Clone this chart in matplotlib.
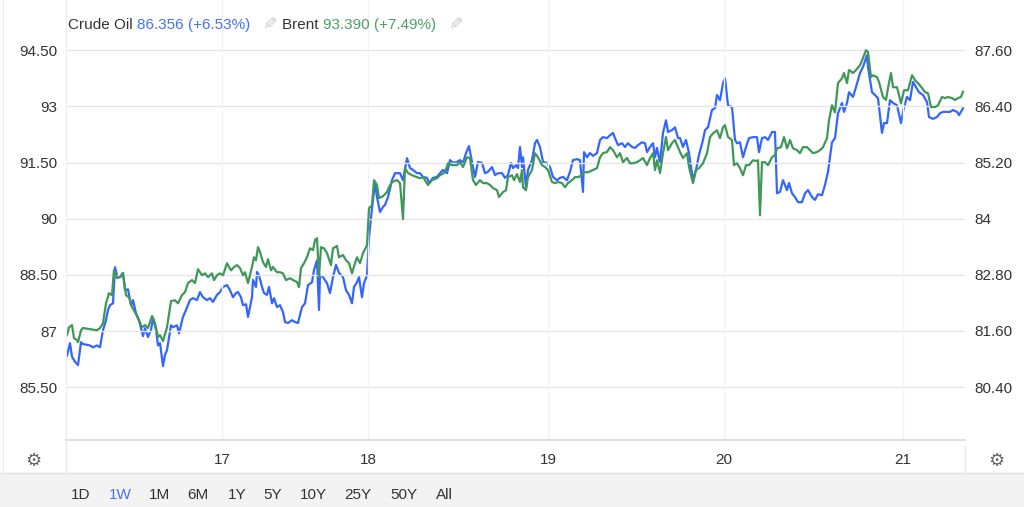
import matplotlib
matplotlib.use("Agg")
import matplotlib.pyplot as plt
from matplotlib.patches import Rectangle
from matplotlib.lines import Line2D

plt.rcParams['font.family'] = ['Liberation Sans', 'DejaVu Sans']

# ---- data (time position on compressed trading-time scale, value) ----
crude_t = [1, 4, 6, 9, 12, 15, 17, 24, 27, 31, 34, 37, 40, 42, 44, 47, 49, 51, 54, 57, 59, 62, 65, 67,
           70, 73, 77, 79, 82, 85, 87, 90, 92, 94, 97, 99, 101, 105, 107, 111, 113, 117, 120, 124, 127,
           131, 134, 137, 141, 144, 147, 151, 154, 157, 161, 164, 167, 170, 172, 175, 177, 180, 182, 186,
           187, 190, 191, 193, 196, 198, 201, 203, 206, 208, 211, 214, 217, 219, 222, 226, 229, 232, 236,
           239, 242, 246, 248, 251, 253, 254, 257, 261, 264, 267, 270, 273, 277, 280, 283, 286, 288, 291,
           293, 296, 298, 301, 303, 306, 309, 311, 314, 317, 319, 322, 326, 329, 334, 337, 341, 344, 347,
           351, 354, 357, 361, 363, 367, 371, 374, 377, 381, 384, 387, 391, 394, 397, 400, 403, 406, 409,
           412, 416, 419, 422, 426, 429, 432, 436, 439, 442, 445, 447, 450, 452, 454, 456, 457, 460, 462,
           466, 469, 471, 474, 477, 481, 484, 487, 491, 494, 497, 501, 504, 507, 511, 514, 517, 518, 521,
           524, 527, 531, 534, 537, 541, 544, 547, 549, 552, 556, 559, 562, 566, 569, 572, 576, 579, 581,
           584, 587, 589, 591, 594, 597, 600, 602, 606, 609, 612, 614, 617, 620, 623, 627, 630, 633, 637,
           639, 642, 646, 649, 651, 654, 657, 659, 662, 666, 669, 671, 674, 677, 680, 683, 687, 691, 693,
           696, 699, 702, 706, 709, 711, 714, 717, 721, 723, 726, 729, 732, 736, 739, 742, 746, 749, 752,
           756, 759, 762, 766, 769, 772, 776, 778, 781, 783, 787, 790, 794, 797, 801, 802, 806, 809, 812,
           816, 818, 821, 824, 827, 831, 835, 838, 841, 844, 847, 850, 853, 857, 861, 863, 867, 871, 874,
           877, 881, 884, 887, 891, 893, 896, 897]
crude = [81.07, 81.34, 81.05, 80.94, 80.87, 81.36, 81.32, 81.29, 81.25, 81.29, 81.25, 81.62, 81.83,
         82.05, 82.15, 82.19, 82.96, 82.79, 82.75, 82.84, 82.47, 82.49, 82.15, 82.26, 81.98, 81.83, 81.49,
         81.66, 81.47, 81.62, 81.88, 81.62, 81.29, 81.34, 80.85, 81.09, 81.19, 81.72, 81.68, 81.72, 81.55,
         81.90, 82.05, 82.26, 82.30, 82.26, 82.43, 82.32, 82.26, 82.30, 82.22, 82.37, 82.43, 82.54, 82.58,
         82.47, 82.32, 82.41, 82.43, 82.32, 82.15, 82.17, 81.90, 82.32, 82.69, 82.54, 82.86, 82.79, 82.54,
         82.41, 82.37, 82.54, 82.19, 82.30, 82.11, 82.15, 82.00, 81.79, 81.77, 81.83, 81.79, 81.77, 82.11,
         82.19, 82.58, 82.64, 82.90, 83.11, 82.05, 82.79, 82.75, 82.62, 82.41, 82.75, 83.01, 82.84, 82.75,
         82.47, 82.37, 82.19, 82.54, 82.64, 82.75, 82.32, 82.62, 82.79, 83.60, 84.22, 84.76, 84.46, 84.14,
         84.25, 84.29, 84.46, 84.82, 84.97, 84.97, 84.82, 85.29, 85.08, 85.04, 84.97, 84.97, 84.89, 84.87,
         84.76, 84.87, 84.89, 84.97, 85.04, 84.97, 85.25, 85.19, 85.21, 85.25, 85.19, 85.40, 85.55, 85.21,
         84.89, 85.21, 85.19, 84.97, 85.00, 85.10, 84.93, 84.97, 84.97, 84.87, 84.93, 85.19, 85.08, 85.14,
         85.08, 85.53, 85.10, 85.31, 84.67, 85.04, 85.25, 85.61, 85.68, 85.53, 85.21, 85.19, 85.10, 84.89,
         84.82, 84.87, 84.89, 84.82, 85.00, 85.25, 85.27, 85.25, 84.57, 85.42, 85.31, 85.40, 85.34, 85.40,
         85.68, 85.74, 85.72, 85.78, 85.83, 85.72, 85.57, 85.61, 85.53, 85.61, 85.53, 85.51, 85.57, 85.63,
         85.61, 85.42, 85.53, 85.61, 85.31, 85.51, 85.19, 85.83, 86.10, 85.85, 85.89, 85.95, 85.72, 85.72,
         85.53, 85.68, 85.40, 84.82, 85.04, 85.36, 85.68, 85.89, 85.95, 86.32, 86.36, 86.64, 86.53, 86.89,
         87.00, 86.42, 86.38, 85.68, 85.61, 85.63, 85.31, 85.53, 85.72, 85.74, 85.74, 85.42, 85.72, 85.74,
         85.68, 85.85, 85.85, 84.54, 84.57, 84.82, 84.61, 84.76, 84.54, 84.46, 84.35, 84.35, 84.54, 84.61,
         84.46, 84.40, 84.52, 84.50, 84.72, 85.00, 85.63, 85.72, 86.25, 86.47, 86.28, 86.47, 86.70, 86.60,
         86.81, 87.11, 87.24, 87.49, 87.24, 86.70, 86.64, 86.57, 85.83, 86.04, 86.04, 86.53, 86.47, 86.42,
         86.04, 86.38, 86.60, 86.53, 86.92, 86.81, 86.70, 86.64, 86.49, 86.17, 86.13, 86.17, 86.25, 86.28,
         86.28, 86.28, 86.32, 86.28, 86.21, 86.32, 86.356]

brent_t = [1, 3, 6, 8, 11, 12, 15, 17, 24, 31, 34, 37, 40, 43, 46, 48, 51, 54, 57, 60, 63, 66, 69, 72,
           76, 79, 82, 86, 89, 92, 94, 97, 101, 105, 109, 112, 116, 119, 122, 126, 129, 132, 136, 139,
           142, 146, 148, 151, 154, 157, 161, 165, 168, 171, 174, 177, 179, 182, 186, 188, 190, 192, 194,
           197, 200, 202, 205, 207, 211, 214, 217, 220, 224, 227, 231, 233, 235, 238, 241, 244, 247, 249,
           251, 253, 255, 258, 261, 265, 267, 271, 273, 277, 280, 283, 286, 289, 291, 294, 297, 301, 303,
           306, 308, 311, 313, 317, 321, 323, 326, 331, 334, 337, 339, 342, 346, 351, 354, 357, 362, 366,
           371, 374, 379, 382, 386, 391, 394, 397, 401, 404, 407, 410, 414, 417, 421, 424, 427, 431, 433,
           437, 440, 442, 446, 448, 451, 454, 456, 457, 460, 462, 466, 469, 472, 476, 479, 482, 486, 489,
           492, 496, 499, 502, 506, 509, 512, 516, 518, 522, 527, 531, 534, 537, 541, 544, 547, 551, 554,
           557, 561, 564, 567, 571, 574, 577, 581, 584, 587, 589, 591, 594, 597, 600, 602, 606, 609, 612,
           614, 617, 621, 623, 627, 630, 633, 637, 641, 644, 647, 651, 654, 657, 659, 662, 666, 668, 671,
           674, 677, 680, 683, 687, 690, 692, 694, 696, 699, 702, 706, 709, 711, 715, 718, 721, 724, 727,
           731, 734, 737, 741, 744, 747, 751, 754, 757, 761, 763, 766, 769, 772, 776, 778, 781, 783, 787,
           790, 794, 797, 800, 802, 805, 807, 811, 813, 817, 820, 822, 825, 827, 831, 835, 838, 842, 846,
           849, 852, 856, 859, 862, 865, 869, 872, 876, 879, 882, 886, 889, 892, 895, 897]
brent = [86.89, 87.10, 87.16, 86.81, 86.76, 86.70, 87.02, 87.08, 87.05, 87.02, 87.08, 87.21, 87.74,
         88.01, 87.96, 88.63, 88.41, 88.44, 88.54, 87.96, 87.90, 87.64, 87.50, 87.34, 87.10, 87.16, 87.08,
         87.40, 87.21, 86.84, 86.89, 86.73, 87.10, 87.80, 87.82, 87.74, 87.96, 88.04, 88.28, 88.36, 88.28,
         88.65, 88.49, 88.54, 88.44, 88.54, 88.36, 88.49, 88.54, 88.49, 88.81, 88.62, 88.71, 88.76, 88.68,
         88.49, 88.57, 88.28, 88.71, 88.97, 88.89, 89.24, 89.11, 88.84, 88.71, 88.92, 88.62, 88.71, 88.57,
         88.57, 88.54, 88.36, 88.41, 88.36, 88.31, 88.17, 88.68, 88.81, 88.97, 89.21, 89.16, 89.43, 89.48,
         88.44, 89.24, 89.21, 89.08, 88.76, 89.21, 89.27, 88.97, 89.03, 88.89, 88.81, 88.54, 88.81, 88.97,
         88.81, 89.08, 89.29, 90.28, 90.36, 91.03, 90.90, 90.55, 90.60, 90.71, 90.84, 90.98, 91.03, 90.95,
         89.99, 91.35, 91.22, 91.16, 91.11, 91.08, 91.11, 90.90, 91.03, 91.08, 91.16, 91.24, 91.48, 91.43,
         91.43, 91.51, 91.38, 91.64, 91.62, 91.03, 90.90, 91.03, 90.95, 90.95, 90.90, 90.82, 90.76, 90.58,
         90.71, 90.76, 91.11, 91.16, 91.03, 91.19, 90.98, 91.30, 90.84, 90.76, 91.11, 91.30, 91.75, 91.64,
         91.43, 91.38, 91.30, 90.98, 90.95, 90.98, 90.95, 90.84, 90.95, 91.03, 91.11, 91.11, 91.16, 91.24,
         91.24, 91.30, 91.35, 91.64, 91.75, 91.78, 91.91, 91.83, 91.64, 91.75, 91.51, 91.62, 91.48, 91.48,
         91.51, 91.56, 91.62, 91.43, 91.62, 91.75, 91.30, 91.56, 91.22, 91.75, 92.18, 91.83, 92.02, 92.10,
         91.91, 91.78, 91.62, 91.75, 91.38, 90.95, 91.30, 91.35, 91.48, 91.75, 92.18, 92.28, 92.36, 92.15,
         92.44, 92.50, 92.18, 92.10, 91.43, 91.48, 91.35, 91.16, 91.43, 91.43, 91.56, 91.54, 91.56, 90.09,
         91.51, 91.51, 91.43, 91.64, 91.70, 91.88, 91.91, 92.18, 91.88, 92.10, 91.88, 91.83, 91.75, 91.91,
         91.91, 91.83, 91.75, 91.78, 91.83, 91.91, 92.15, 92.63, 93.03, 92.84, 93.62, 93.75, 93.89, 93.62,
         93.97, 93.89, 93.97, 94.10, 94.29, 94.50, 94.45, 93.78, 93.83, 93.78, 93.65, 93.25, 93.17, 93.49,
         93.89, 93.51, 93.51, 93.08, 93.43, 93.43, 93.83, 93.70, 93.62, 93.49, 93.38, 93.35, 92.98, 92.98,
         93.03, 93.25, 93.22, 93.25, 93.22, 93.17, 93.22, 93.25, 93.39]

day_labels = ["17", "18", "19", "20", "21"]
day_pos = [156, 302, 482, 658, 837]
left_ticks = [85.5, 87, 88.5, 90, 91.5, 93, 94.5]
left_labels = ["85.50", "87", "88.50", "90", "91.50", "93", "94.50"]
right_ticks = [80.4, 81.6, 82.8, 84, 85.2, 86.4, 87.6]
right_labels = ["80.40", "81.60", "82.80", "84", "85.20", "86.40", "87.60"]
ranges = ["1D", "1W", "1M", "6M", "1Y", "5Y", "10Y", "25Y", "50Y", "All"]
legend = [("Crude Oil", "86.356 (+6.53%)"), ("Brent", "93.390 (+7.49%)")]

BLUE = "#3366ff"
GREEN = "#3f985a"
BLUE_TXT = "#4470ff"
GREEN_TXT = "#4e9e66"
TXT = "#333333"
FS = 11

W, H = 1024, 507
fig = plt.figure(figsize=(W / 100, H / 100), dpi=100)
fig.patch.set_facecolor("white")

def fx(px):
    return px / W

def fy(py):
    return 1 - py / H

# bottom grey band and frame lines
fig.patches.append(Rectangle((0, 0), 1, fy(473), transform=fig.transFigure,
                             facecolor="#f3f3f3", edgecolor="none", zorder=0))
fig.lines.append(Line2D([0, 1], [fy(473), fy(473)], transform=fig.transFigure,
                        color="#e2e2e2", lw=1))
fig.lines.append(Line2D([fx(3), fx(3)], [fy(473), 1], transform=fig.transFigure,
                        color="#eeeeee", lw=1))
fig.lines.append(Line2D([fx(66), fx(66)], [fy(473), fy(440)], transform=fig.transFigure,
                        color="#e8e8e8", lw=1))
fig.lines.append(Line2D([fx(965), fx(965)], [fy(473), fy(446)], transform=fig.transFigure,
                        color="#e8e8e8", lw=1))

ax = fig.add_axes([fx(66), fy(440), fx(965 - 66), 440 / H])
ax2 = ax.twinx()
ax.set_zorder(2)
ax.patch.set_visible(False)
ax2.set_zorder(1)

ax.set_xlim(0, 899)
ax.set_ylim(84.09, 95.84)
ax2.set_ylim(79.27, 88.67)

# grid
for v in left_ticks:
    ax.axhline(v, color="#e6e6e6", lw=1, zorder=0)
for p in day_pos:
    ax.axvline(p, color="#f0f4f6", lw=1, zorder=0)

ax2.plot(crude_t, crude, color=BLUE, lw=1.6, solid_joinstyle="round")
ax.plot(brent_t, brent, color=GREEN, lw=1.6, solid_joinstyle="round")

for a in (ax, ax2):
    for s in a.spines.values():
        s.set_visible(False)
ax.spines["left"].set_visible(True)
ax.spines["left"].set_color("#eeeeee")
ax.spines["bottom"].set_visible(True)
ax.spines["bottom"].set_color("#e0e0e0")
ax.spines["bottom"].set_linewidth(1.5)

ax.set_yticks(left_ticks)
ax.set_yticklabels(left_labels)
ax2.set_yticks(right_ticks)
ax2.set_yticklabels(right_labels)
ax.tick_params(axis="y", length=0, pad=6, labelsize=FS, labelcolor=TXT)
ax2.tick_params(axis="y", length=0, pad=7, labelsize=FS, labelcolor=TXT)
ax.set_xticks(day_pos)
ax.set_xticklabels(day_labels)
ax.tick_params(axis="x", length=0, pad=9, labelsize=FS, labelcolor=TXT)
ax2.tick_params(axis="x", length=0, labelbottom=False)

# legend-like header
r = fig.canvas.get_renderer()
y_leg = fy(25)
x = fx(68)
for i, (name, val) in enumerate(legend):
    col = BLUE_TXT if i == 0 else GREEN_TXT
    t1 = fig.text(x, y_leg, name + " ", color=TXT, fontsize=FS, va="center", ha="left")
    bb = t1.get_window_extent(renderer=r)
    x = bb.x1 / W
    t2 = fig.text(x, y_leg, val, color=col, fontsize=FS, va="center", ha="left")
    bb = t2.get_window_extent(renderer=r)
    x = bb.x1 / W + fx(7)
    t3 = fig.text(x, y_leg + 0.004, "\u270e", color="#c8c8c8", fontsize=12, va="center",
                  ha="left", rotation=-90, family=["DejaVu Sans"])
    bb = t3.get_window_extent(renderer=r)
    x = bb.x1 / W + fx(7)

# gear icons
for gx in (33, 996):
    fig.text(fx(gx), fy(461), "\u2699", color="#666666", fontsize=13, ha="center",
             va="center", family=["DejaVu Sans"])

# range selector
range_x = [81, 120, 159, 198, 237, 273, 313, 358, 404, 444]
for lab, rx in zip(ranges, range_x):
    fig.text(fx(rx), fy(495), lab, color=BLUE_TXT if lab == "1W" else TXT,
             fontsize=FS, ha="center", va="center")

fig.savefig("out.png", dpi=100, facecolor=fig.get_facecolor())
